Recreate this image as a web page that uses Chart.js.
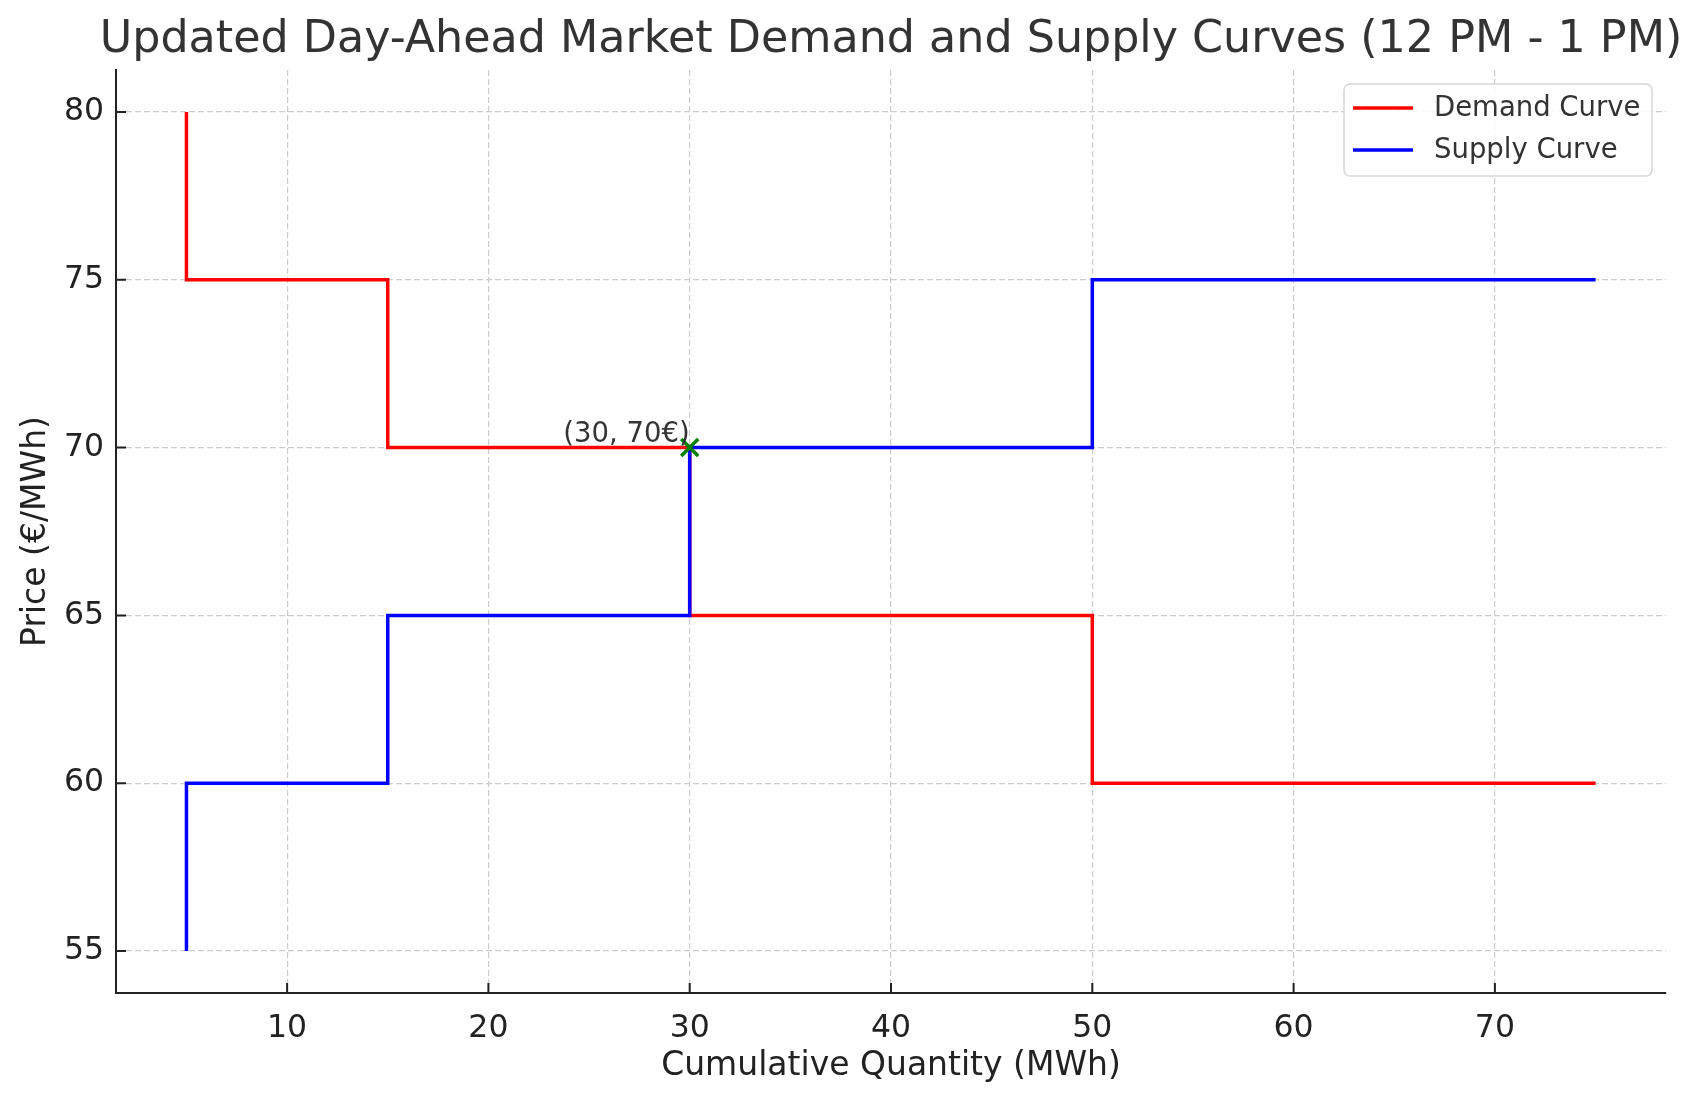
<!DOCTYPE html>
<html>
<head>
<meta charset="utf-8">
<script src="https://cdn.jsdelivr.net/npm/chart.js@4.4.1/dist/chart.umd.min.js"></script>
<style>
    html, body { margin: 0; padding: 0; background: #fff; }
    .chart-container { width: 1703px; height: 1101px; }
</style>
</head>
<body>
<div class="chart-container">
    <canvas id="marketChart"></canvas>
</div>

<script>
    // Step points of both curves (quantity in MWh, price in EUR/MWh)
    const quantities = [5, 15, 30, 50, 75];
    const demandPrices = [80, 75, 70, 65, 60];
    const supplyPrices = [55, 60, 65, 70, 75];

    // Market clearing point
    const clearingQuantity = [30];
    const clearingPrice = [70];
    const clearingLabel = '(30, 70€)';

    const xTickValues = [10, 20, 30, 40, 50, 60, 70];
    const yTickValues = [55, 60, 65, 70, 75, 80];

    const chartTitle = 'Updated Day-Ahead Market Demand and Supply Curves (12 PM - 1 PM)';

    const FONT = "'DejaVu Sans', sans-serif";

    const toPoints = (xs, ys) => xs.map((x, i) => ({ x: x, y: ys[i] }));

    // title centred over the plot area (it is wider than the plot, so not squeezed)
    const plotTitle = {
        id: 'plotTitle',
        afterDraw(chart) {
            const { ctx, chartArea } = chart;
            ctx.save();
            ctx.font = '44.4px ' + FONT;
            ctx.fillStyle = '#333';
            ctx.textAlign = 'center';
            ctx.textBaseline = 'middle';
            ctx.fillText(chartTitle, (chartArea.left + chartArea.right) / 2, 40);
            ctx.restore();
        }
    };

    // matplotlib-style inward tick marks
    const inwardTicks = {
        id: 'inwardTicks',
        afterDatasetsDraw(chart) {
            const { ctx, chartArea, scales } = chart;
            ctx.save();
            ctx.strokeStyle = '#222';
            ctx.lineWidth = 2;
            ctx.beginPath();
            xTickValues.forEach(v => {
                const px = scales.x.getPixelForValue(v);
                ctx.moveTo(px, chartArea.bottom);
                ctx.lineTo(px, chartArea.bottom - 10);
            });
            yTickValues.forEach(v => {
                const py = scales.y.getPixelForValue(v);
                ctx.moveTo(chartArea.left, py);
                ctx.lineTo(chartArea.left + 10, py);
            });
            ctx.stroke();
            ctx.restore();
        }
    };

    // text next to the clearing point
    const clearingText = {
        id: 'clearingText',
        afterDatasetsDraw(chart) {
            const { ctx, scales } = chart;
            const px = scales.x.getPixelForValue(clearingQuantity[0]);
            const py = scales.y.getPixelForValue(clearingPrice[0]);
            ctx.save();
            ctx.font = '27.5px ' + FONT;
            ctx.fillStyle = '#333';
            ctx.textAlign = 'right';
            ctx.textBaseline = 'bottom';
            ctx.fillText(clearingLabel, px, py + 1);
            ctx.restore();
        }
    };

    // boxed legend in the upper right corner of the plot
    const boxLegend = {
        id: 'boxLegend',
        afterDraw(chart) {
            const { ctx, chartArea } = chart;
            const items = chart.data.datasets.filter(d => d.showInLegend);
            const right = chartArea.right - 14;
            const top = chartArea.top + 14;
            const w = 308, rowH = 42, h = 92;
            const left = right - w;
            ctx.save();
            ctx.beginPath();
            ctx.roundRect(left, top, w, h, 6);
            ctx.fillStyle = 'rgba(255,255,255,0.85)';
            ctx.fill();
            ctx.strokeStyle = '#d6d6d6';
            ctx.lineWidth = 1.5;
            ctx.stroke();
            ctx.font = '27.5px ' + FONT;
            ctx.textBaseline = 'middle';
            ctx.textAlign = 'left';
            items.forEach((d, i) => {
                const y = top + 24 + i * rowH;
                ctx.strokeStyle = d.borderColor;
                ctx.lineWidth = 3.5;
                ctx.beginPath();
                ctx.moveTo(left + 9, y);
                ctx.lineTo(left + 69, y);
                ctx.stroke();
                ctx.fillStyle = '#333';
                ctx.fillText(d.label, left + 90, y + 1);
            });
            ctx.restore();
        }
    };

    const gridOpts = {
        color: '#cccccc',
        lineWidth: 1.2,
        drawTicks: false
    };
    const borderOpts = { display: true, color: '#222', width: 2, dash: [6, 3] };

    const ctx = document.getElementById('marketChart').getContext('2d');
    new Chart(ctx, {
        type: 'line',
        data: {
            datasets: [
                {
                    label: 'Demand Curve',
                    data: toPoints(quantities, demandPrices),
                    borderColor: '#ff0000',
                    backgroundColor: '#ff0000',
                    borderWidth: 3.5,
                    stepped: 'after',
                    pointRadius: 0,
                    fill: false,
                    order: 3,
                    showInLegend: true
                },
                {
                    label: 'Supply Curve',
                    data: toPoints(quantities, supplyPrices),
                    borderColor: '#0000ff',
                    backgroundColor: '#0000ff',
                    borderWidth: 3.5,
                    stepped: 'after',
                    pointRadius: 0,
                    fill: false,
                    order: 2,
                    showInLegend: true
                },
                {
                    label: 'Clearing Point',
                    type: 'scatter',
                    data: toPoints(clearingQuantity, clearingPrice),
                    pointStyle: 'crossRot',
                    pointRadius: 12,
                    borderColor: '#008000',
                    backgroundColor: '#008000',
                    borderWidth: 3.5,
                    pointBorderWidth: 3.5,
                    showLine: false,
                    order: 1
                }
            ]
        },
        options: {
            responsive: true,
            maintainAspectRatio: false,
            animation: false,
            devicePixelRatio: 1,
            layout: {
                padding: { left: 0, right: 37, top: 70, bottom: 0 }
            },
            scales: {
                x: {
                    type: 'linear',
                    min: 1.5,
                    max: 78.5,
                    afterBuildTicks: scale => { scale.ticks = xTickValues.map(v => ({ value: v })); },
                    afterFit: scale => { scale.height = 108; },
                    grid: gridOpts,
                    border: borderOpts,
                    ticks: {
                        padding: 17,
                        color: '#222',
                        font: { family: FONT, size: 31.5 }
                    },
                    title: {
                        display: true,
                        text: 'Cumulative Quantity (MWh)',
                        color: '#222',
                        font: { family: FONT, size: 33 },
                        padding: { top: 0, bottom: 15 }
                    }
                },
                y: {
                    type: 'linear',
                    min: 53.75,
                    max: 81.25,
                    afterBuildTicks: scale => { scale.ticks = yTickValues.map(v => ({ value: v })); },
                    afterFit: scale => { scale.width = 116; },
                    grid: gridOpts,
                    border: borderOpts,
                    ticks: {
                        padding: 12,
                        color: '#222',
                        font: { family: FONT, size: 31.5 }
                    },
                    title: {
                        display: true,
                        text: 'Price (€/MWh)',
                        color: '#222',
                        font: { family: FONT, size: 33 },
                        padding: { top: 17, bottom: 0 }
                    }
                }
            },
            plugins: {
                legend: { display: false },
                tooltip: { enabled: false },
                title: { display: false }
            }
        },
        plugins: [plotTitle, inwardTicks, clearingText, boxLegend]
    });
</script>
</body>
</html>
